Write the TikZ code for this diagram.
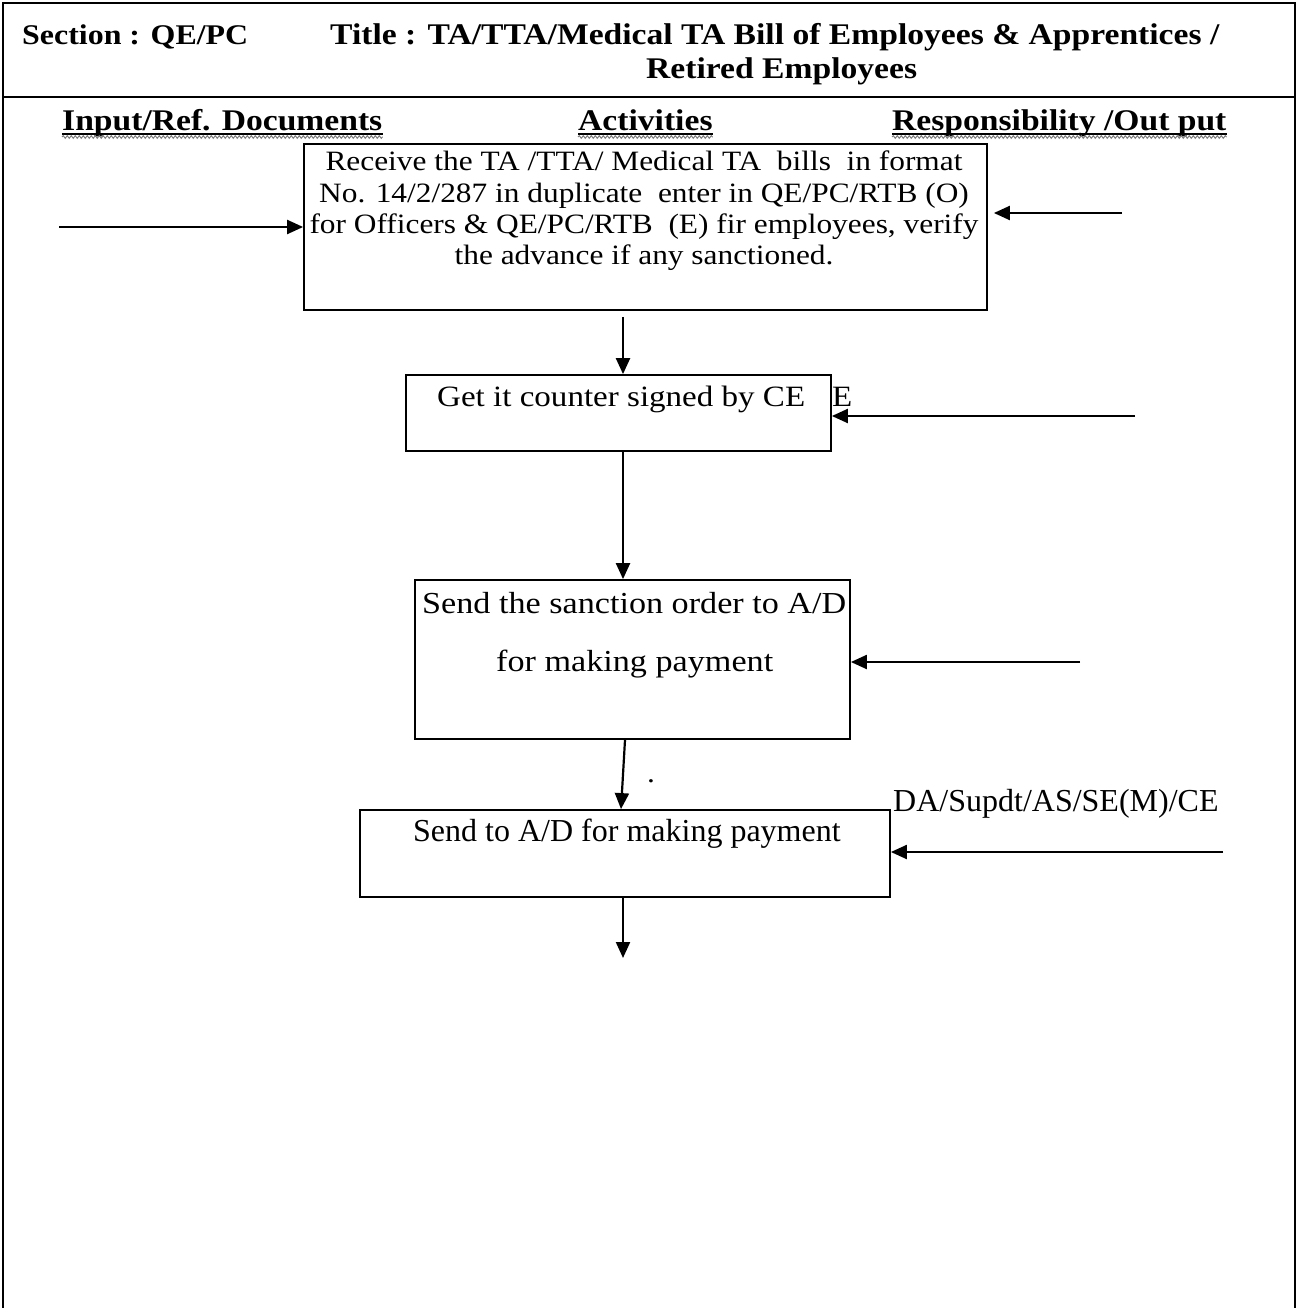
\documentclass[tikz,border=0pt]{standalone}
\usepackage{fontspec}
\setmainfont{Liberation Serif}
\newfontfamily\cam[FakeStretch=1.12]{Liberation Serif}
\usetikzlibrary{arrows.meta,decorations.pathmorphing}
\tikzset{
  arr/.style={line width=2.2pt,-{Triangle[length=16pt,width=14pt]}},
  stepbox/.style={draw,line width=1.8pt,rectangle,inner sep=0pt},
  frameline/.style={line width=1.5pt},
  txt/.style={inner sep=0pt,font=\cam\fontsize{28}{31}\selectfont},
  txtb/.style={inner sep=0pt,font=\cam\fontsize{29.5}{33}\selectfont},
  txtc/.style={inner sep=0pt,font=\cam\fontsize{30.5}{34}\selectfont},
  tms/.style={inner sep=0pt,font=\fontsize{32}{36}\selectfont},
  hdr/.style={inner sep=0pt,font=\cam\bfseries\fontsize{30}{34}\selectfont},
  uline/.style={line width=1.3pt},
  wavy/.style={gray,line width=1pt,decorate,decoration={snake,amplitude=1.3pt,segment length=4pt}}
}
\begin{document}
\begin{tikzpicture}[x=1pt,y=-1pt]
\useasboundingbox (0,0) rectangle (1298,1308);
% frame
\draw[frameline] (3,1308) -- (3,3) -- (1295,3) -- (1295,1308);
\draw[frameline] (3,97) -- (1295,97);
% header
\node[hdr,anchor=base west,font=\cam\bfseries\fontsize{28.5}{34}\selectfont] (sec) at (22,45) {Section : QE/PC};
\node[hdr,anchor=base west] (tit1) at (330,45) {Title : TA/TTA/Medical TA Bill of Employees \& Apprentices /};
\node[hdr,anchor=base west] (tit2) at (646,79) {Retired Employees};
% column headings
\node[hdr,anchor=base west] (h1) at (62,131) {Input/Ref. Documents};
\node[hdr,anchor=base west] (h2) at (578,131) {Activities};
\node[hdr,anchor=base west] (h3) at (892,131) {Responsibility /Out put};
\foreach \n in {h1,h2,h3}{
  \draw[uline] ([yshift=-3pt]\n.base west) -- ([yshift=-3pt]\n.base east);
  \draw[wavy] ([yshift=-6pt]\n.base west) -- ([yshift=-6pt]\n.base east);
}
% boxes
\node[stepbox,minimum width=683pt,minimum height=166pt] (b1) at (645.5,227) {};
\node[stepbox,minimum width=425pt,minimum height=76pt] (b2) at (618.5,413) {};
\node[stepbox,minimum width=435pt,minimum height=159pt] (b3) at (632.5,659.5) {};
\node[stepbox,minimum width=530pt,minimum height=87pt] (b4) at (625,853.5) {};
% box texts
\node[txt,anchor=base] (t11) at (644,171) {Receive the TA /TTA/ Medical TA\ \ bills\ \ in format};
\node[txt,anchor=base] (t12) at (644,202) {No. 14/2/287 in duplicate\ \ enter in QE/PC/RTB (O)};
\node[txt,anchor=base] (t13) at (644,233) {for Officers \& QE/PC/RTB\ \ (E) fir employees, verify};
\node[txt,anchor=base] (t14) at (644,264) {the advance if any sanctioned.};
\node[txtb,anchor=base west] (t2) at (437,406) {Get it counter signed by CE};
\node[txtb,anchor=base west] (t2e) at (832,406) {E};
\node[txtc,anchor=base west] (t31) at (422,613) {Send the sanction order to A/D};
\node[txtc,anchor=base west] (t32) at (496,671) {for making payment};
\node[txt,anchor=base west] (dot) at (647,782) {.};
\node[tms,anchor=base west] (t4) at (413,841) {Send to A/D for making payment};
\node[tms,anchor=base west] (resp) at (893,811) {DA/Supdt/AS/SE(M)/CE};
% coordinates
\coordinate (in1) at (59,227);
\coordinate (r1) at (1122,213);
\coordinate (r2) at (1135,416);
\coordinate (r3) at (1080,662);
\coordinate (r4) at (1223,852);
\coordinate (v1) at (623,0);
\coordinate (v3) at (625,0);
\coordinate (v4) at (621,0);
\coordinate (out) at (623,958);
% connectors
\draw[arr] (in1) -- (b1.west);
\draw[arr,shorten >=6pt] (r1) -- (b1.east |- r1);
\draw[arr,shorten <=6pt] (b1.south -| v1) -- (b2.north -| v1);
\draw[arr] (r2) -- (b2.east |- r2);
\draw[arr] (b2.south -| v1) -- (b3.north -| v1);
\draw[arr] (r3) -- (b3.east |- r3);
\draw[arr] (b3.south -| v3) -- (b4.north -| v4);
\draw[arr] (r4) -- (b4.east |- r4);
\draw[arr] (b4.south -| v1) -- (out);
\end{tikzpicture}
\end{document}
